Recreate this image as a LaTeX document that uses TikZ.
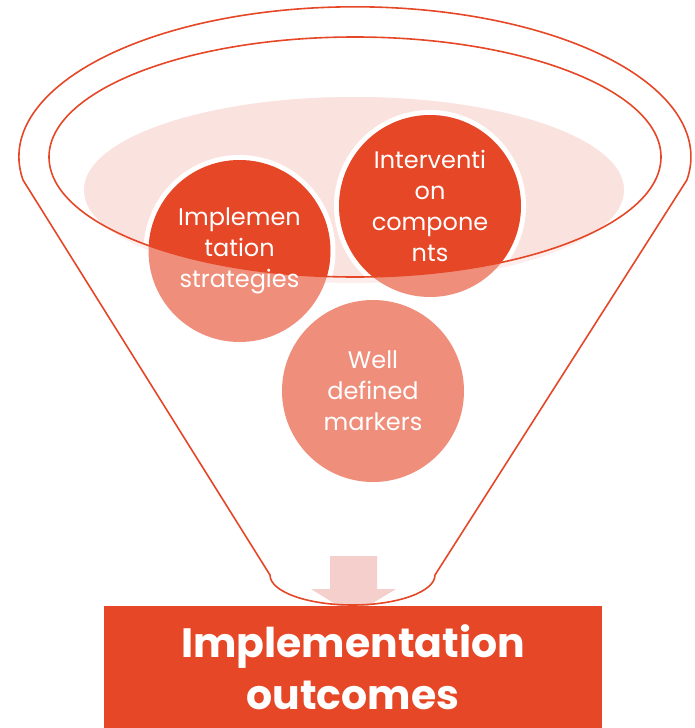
\documentclass[tikz,border=0pt]{standalone}
\usepackage{fontspec}
\setmainfont{Poppins}

\definecolor{funnelred}{HTML}{E54727}
\definecolor{bubblelight}{HTML}{EF8E7A}
\definecolor{rimpink}{HTML}{FAE2DF}
\definecolor{rimpale}{HTML}{FCEEEC}
\definecolor{arrowpink}{HTML}{F4CFCB}

\tikzset{
  funnel line/.style={draw=funnelred, line width=1.6pt},
  bubble text/.style={align=center, text=white, inner sep=0pt,
    font=\fontsize{24}{31}\selectfont},
  outcome box/.style={rectangle, fill=funnelred, text=white, align=center,
    minimum width=498pt, minimum height=122pt, inner sep=0pt,
    font=\bfseries\fontsize{41}{52}\selectfont},
}

\begin{document}
\begin{tikzpicture}[x=1pt, y=1pt]

  \useasboundingbox (0,0) rectangle (694,-728);

  % bubble centres
  \coordinate (strat) at (239.5,-251);
  \coordinate (comp) at (430,-206);
  \coordinate (mark) at (373,-391);

  % pale disc of the funnel mouth
  \fill[rimpale] (354,-190) ellipse [x radius=270, y radius=93];

  % bubbles, light part
  \foreach \b in {strat, comp, mark}
    \fill[bubblelight] (\b) circle [radius=91];

  % everything inside the mouth is darker
  \begin{scope}
    \clip (355,-157) ellipse [x radius=306, y radius=120];
    \fill[rimpink] (354,-190) ellipse [x radius=270, y radius=93];
    \foreach \b in {strat, comp} {
      \draw[white, line width=5pt] (\b) circle [radius=93.5];
      \fill[funnelred] (\b) circle [radius=91];
    }
  \end{scope}

  % down arrow
  \fill[arrowpink] (330,-556) -- (377,-556) -- (377,-589) -- (396,-589)
    -- (353,-615) -- (311,-589) -- (330,-589) -- cycle;

  % funnel outline
  \draw[funnel line] (270,-575) -- (23,-180)
    arc [start angle=188.9, end angle=-8.9, x radius=336, y radius=150]
    -- (435,-575)
    arc [start angle=0, end angle=-180, x radius=82.5, y radius=30]
    -- cycle;
  \draw[funnel line] (355,-157) ellipse [x radius=306, y radius=120];

  % bubble labels
  \node[bubble text] (stratlabel) at (strat) {Implemen\\tation\\strategies};
  \node[bubble text] (complabel) at (comp) {Interventi\\on\\compone\\nts};
  \node[bubble text] (marklabel) at (mark) {Well\\defined\\markers};

  % outcome box
  \node[outcome box] (outcome) at (353,-667) {Implementation\\outcomes};

\end{tikzpicture}
\end{document}
